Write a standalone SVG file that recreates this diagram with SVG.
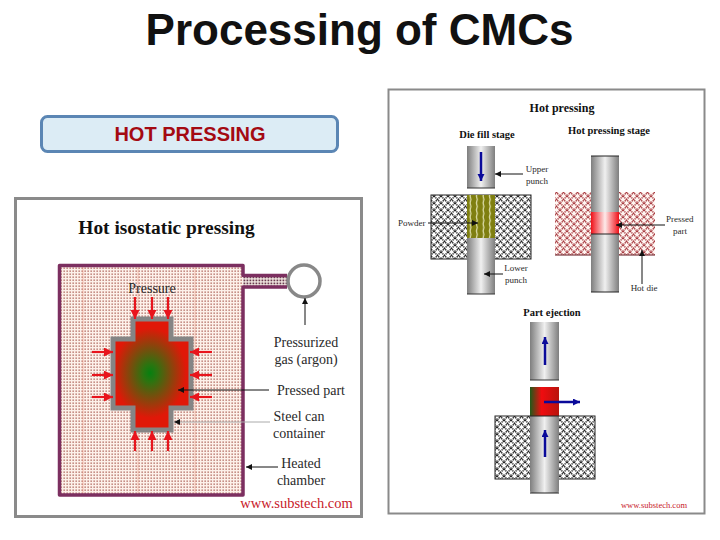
<svg xmlns="http://www.w3.org/2000/svg" width="720" height="540" viewBox="0 0 720 540">
<style>
.s{font-family:"Liberation Serif","Times New Roman",serif;fill:#2a2a2a}
.b{font-weight:bold;fill:#111}
.l1{font-size:14px}
.l2{font-size:9px}
.mid{text-anchor:middle}
.frame{fill:#fff;stroke:#8a8a8a}
.kt{stroke:#111;stroke-width:1;fill:none}
.r{stroke:#e8141c;stroke-width:2.2;fill:none;marker-end:url(#ar)}
.bl{stroke:#0a0a9a;stroke-width:2.500;fill:none;marker-end:url(#ab)}
</style>
<defs>
<marker id="ar" markerWidth="10" markerHeight="10" refX="9" refY="4.500" orient="auto" markerUnits="userSpaceOnUse"><path d="M0 0L9 4.500L0 9Z" fill="#e8141c"/></marker>
<marker id="ab" markerWidth="8" markerHeight="8" refX="7" refY="3.500" orient="auto" markerUnits="userSpaceOnUse"><path d="M0 0L7 3.500L0 7Z" fill="#0a0a9a"/></marker>
<marker id="ak" markerWidth="7" markerHeight="7" refX="6" refY="3" orient="auto" markerUnits="userSpaceOnUse"><path d="M0 0L6 3L0 6Z" fill="#111"/></marker>
<pattern id="dots" width="3" height="3" patternUnits="userSpaceOnUse"><rect width="3" height="3" fill="#fdf1ea"/><rect x=".5" y=".5" width="1.300" height="1.300" fill="#a85a50"/></pattern>
<pattern id="dotsT" width="3" height="3" patternUnits="userSpaceOnUse"><rect width="3" height="3" fill="#f8f0e8"/><rect x=".5" y=".5" width="1.800" height="1.800" fill="#6a3a50"/></pattern>
<pattern id="hatch" width="7" height="7" patternUnits="userSpaceOnUse"><rect width="7" height="7" fill="#fff"/><path d="M0 0L7 7M7 0L0 7" stroke="#222" stroke-width="1.500" stroke-dasharray="1.300 .7"/></pattern>
<pattern id="hatchR" width="7" height="7" patternUnits="userSpaceOnUse"><rect width="7" height="7" fill="#fff6f2"/><path d="M0 0L7 7M7 0L0 7" stroke="#a83a40" stroke-width="1.500" stroke-dasharray="1.300 .7"/></pattern>
<pattern id="powder" width="6.500" height="7" patternUnits="userSpaceOnUse" x="467"><rect width="6.500" height="7" fill="#7f7f10"/><path d="M3 0L3.800 3.500L3 7" stroke="#f8f8d8" stroke-width="1" fill="none"/></pattern>
<linearGradient id="metal"><stop offset="0" stop-color="#7e7e7e"/><stop offset=".5" stop-color="#f0f0f0"/><stop offset="1" stop-color="#7e7e7e"/></linearGradient>
<linearGradient id="redp"><stop offset="0" stop-color="#f01018"/><stop offset=".5" stop-color="#fdeaea"/><stop offset="1" stop-color="#f01018"/></linearGradient>
<linearGradient id="redg"><stop offset="0" stop-color="#1f5a18"/><stop offset=".4" stop-color="#f00c10"/><stop offset="1" stop-color="#b8140c"/></linearGradient>
<radialGradient id="core" gradientUnits="userSpaceOnUse" cx="150" cy="373" r="36" gradientTransform="translate(150 373) scale(1 1.250) translate(-150 -373)"><stop offset="0" stop-color="#068010"/><stop offset=".2" stop-color="#2c7410"/><stop offset="1" stop-color="#e01808"/></radialGradient>
</defs>

<text x="359.500" y="45" text-anchor="middle" font-family="Liberation Sans,Arial,sans-serif" font-size="44" font-weight="bold" fill="#111">Processing of CMCs</text>

<g id="hot-pressing-box">
<rect x="41.500" y="116.500" width="296" height="35" rx="6" fill="#dcecf5" stroke="#5b86b4" stroke-width="3"/>
<text x="190" y="141" text-anchor="middle" font-family="Liberation Sans,Arial,sans-serif" font-size="20" font-weight="bold" fill="#a40a12">HOT PRESSING</text>
</g>

<g id="hip-panel">
<rect class="frame" x="15.500" y="198.500" width="346" height="318" stroke-width="3"/>
<text class="s b" x="166.500" y="234" text-anchor="middle" font-size="19.400">Hot isostatic pressing</text>
</g>

<g id="hip-chamber">
<path d="M59.500 265.500H243V275.500H288V286.500H243V495H59.500Z" fill="url(#dots)"/>
<path d="M243 276H288V286H243Z" fill="url(#dotsT)"/>
<path d="M83 267V494M138 267V494M195 267V494" stroke="#ee8a70" stroke-width=".8" opacity=".6"/>
<path d="M287 275.500H243V265.500H59.500V495H243V287H287" fill="none" stroke="#7c2f60" stroke-width="3.500" stroke-linejoin="round"/>
</g>
<g id="gas-source"><circle cx="304" cy="281" r="16" fill="#fff" stroke="#888" stroke-width="3.500"/></g>
<g id="steel-can">
<path d="M133 319H171V339H191V408H171V430H133V408H113V339H133Z" fill="url(#core)" stroke="#858585" stroke-width="5"/>
</g>

<g id="hip-connectors">
<path class="r" d="M135 297V319"/><path class="r" d="M152 297V319"/><path class="r" d="M168 297V319"/>
<path class="r" d="M135 451V431"/><path class="r" d="M152 451V431"/><path class="r" d="M168 451V431"/>
<path class="r" d="M92 352H113"/><path class="r" d="M92 375H113"/><path class="r" d="M92 397H113"/>
<path class="r" d="M212 352H190"/><path class="r" d="M212 375H190"/><path class="r" d="M212 397H190"/>
<path class="kt" marker-end="url(#ak)" d="M305 325V298" stroke-width="1.500"/>
<path class="kt" marker-end="url(#ak)" d="M269 390H178"/>
<path stroke="#aaa" fill="none" marker-end="url(#ak)" d="M270 422H174"/>
<path class="kt" marker-end="url(#ak)" d="M278 467H246" stroke-width="1.800"/>
</g>

<g id="hip-labels">
<text class="s l1 mid" x="152" y="293">Pressure</text>
<text class="s l1 mid" x="306" y="347">Pressurized</text>
<text class="s l1 mid" x="306" y="364">gas (argon)</text>
<text class="s l1 mid" x="311" y="395">Pressed part</text>
<text class="s l1 mid" x="299" y="421">Steel can</text>
<text class="s l1 mid" x="299" y="438">container</text>
<text class="s l1 mid" x="301" y="468">Heated</text>
<text class="s l1 mid" x="301" y="485">chamber</text>
<text class="s mid" x="296.500" y="508" font-size="14.500" style="fill:#c8202a">www.substech.com</text>
</g>

<g id="hp-panel">
<rect class="frame" x="388.500" y="89.500" width="316" height="424" stroke-width="2"/>
<text class="s b" x="562" y="112" text-anchor="middle" font-size="12">Hot pressing</text>
<text class="s b" x="487" y="138" text-anchor="middle" font-size="10.500">Die fill stage</text>
<text class="s b" x="609" y="134" text-anchor="middle" font-size="10.500">Hot pressing stage</text>
<text class="s b" x="552" y="316" text-anchor="middle" font-size="10.500">Part ejection</text>
</g>

<g id="die-fill">
<rect x="431" y="195" width="100" height="64" fill="url(#hatch)" stroke="#222"/>
<rect x="467" y="195" width="28" height="43" fill="url(#powder)"/>
<rect x="467" y="146" width="28" height="42" fill="url(#metal)"/>
<path d="M467 188H495" stroke="#333"/>
<rect x="467" y="238" width="28" height="56" fill="url(#metal)"/>
<path d="M467 294H495" stroke="#333"/>
</g>
<g id="hot-stage">
<rect x="555" y="192" width="100" height="63" fill="url(#hatchR)"/>
<path d="M555 255H655" stroke="#601018"/>
<rect x="591" y="156" width="28" height="136" fill="url(#metal)"/>
<path d="M591 156H619M591 292H619" stroke="#222"/>
<rect x="591" y="212" width="28" height="22" fill="url(#redp)"/>
<path d="M591 234H619" stroke="#222"/>
</g>
<g id="ejection">
<rect x="495" y="416" width="100" height="63" fill="url(#hatch)" stroke="#222"/>
<rect x="530" y="322" width="29" height="58" fill="url(#metal)"/>
<path d="M530 380H559" stroke="#333"/>
<rect x="530" y="387" width="29" height="29" fill="url(#redg)"/>
<rect x="530" y="416" width="29" height="77" rx="2" fill="url(#metal)"/>
<path d="M530 416H559M530 493H559" stroke="#222"/>
</g>

<g id="hp-connectors">
<path class="bl" d="M481 152V181"/>
<path class="bl" d="M545 365V337"/>
<path class="bl" d="M545 457V430"/>
<path class="bl" d="M544 402H580"/>
<path class="kt" marker-end="url(#ak)" d="M523 174H495"/>
<path class="kt" marker-end="url(#ak)" d="M428 223H478"/>
<path class="kt" marker-end="url(#ak)" d="M503 274H484"/>
<path class="kt" marker-end="url(#ak)" d="M665 225H616"/>
<path class="kt" marker-end="url(#ak)" d="M642 284V250"/>
</g>

<g id="hp-labels">
<text class="s l2 mid" x="537" y="172">Upper</text>
<text class="s l2 mid" x="537" y="184">punch</text>
<text class="s l2" x="398" y="226">Powder</text>
<text class="s l2 mid" x="516" y="271">Lower</text>
<text class="s l2 mid" x="516" y="283">punch</text>
<text class="s l2" x="666" y="222">Pressed</text>
<text class="s l2" x="673" y="234">part</text>
<text class="s l2 mid" x="644" y="291">Hot die</text>
<text class="s mid" x="654" y="508" font-size="8.500" style="fill:#c8202a">www.substech.com</text>
</g>
</svg>
